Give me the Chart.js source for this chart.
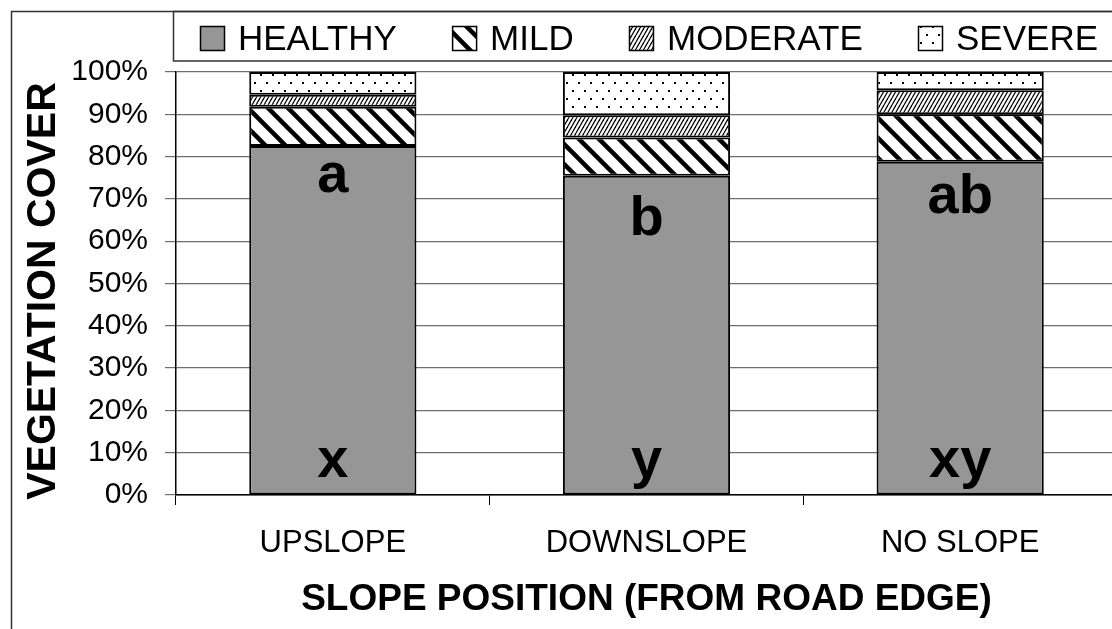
<!DOCTYPE html>
<html>
<head>
<meta charset="utf-8">
<script src="https://cdn.jsdelivr.net/npm/chart.js@4.4.0/dist/chart.umd.min.js"></script>
<style>
    html, body { margin: 0; padding: 0; background: #fff; overflow: hidden; }
    #wrap { width: 1125px; height: 629px; }
</style>
</head>
<body>
<div id="wrap"><canvas id="coverChart" width="1125" height="629"></canvas></div>
<script>
// Data
const categories = ['UPSLOPE', 'DOWNSLOPE', 'NO SLOPE'];
const healthy = [82.5, 75.5, 78.8];
const mild = [9.3, 9.0, 11.2];
const moderate = [2.8, 5.3, 5.7];
const severe = [5.4, 10.2, 4.3];
const yTicks = [0, 10, 20, 30, 40, 50, 60, 70, 80, 90, 100];

// Significance letters and the y value of their baselines
const topLetters = ['a', 'b', 'ab'];
const topLetterY = [71.6, 61.5, 66.7];
const bottomLetters = ['x', 'y', 'xy'];
const bottomLetterY = [4.3, 4.3, 4.3];

const FONT = "'Liberation Sans', Arial, sans-serif";

// Pattern helpers
function makeTile(w, h, draw) {
    const c = document.createElement('canvas');
    c.width = w;
    c.height = h;
    const g = c.getContext('2d');
    g.fillStyle = '#fff';
    g.fillRect(0, 0, w, h);
    draw(g, w, h);
    return document.createElement('canvas').getContext('2d').createPattern(c, 'repeat');
}

const mildPattern = makeTile(20, 20, (g, w, h) => {
    g.strokeStyle = '#000';
    g.lineWidth = 4.5;
    for (let k = -1; k <= 1; k++) {
        g.beginPath();
        g.moveTo(k * w - 2, -2);
        g.lineTo(k * w + w + 2, h + 2);
        g.stroke();
    }
});

const moderatePattern = makeTile(4, 7, (g, w, h) => {
    g.strokeStyle = '#000';
    g.lineWidth = 1.3;
    for (let k = -1; k <= 1; k++) {
        g.beginPath();
        g.moveTo(k * w, h);
        g.lineTo(k * w + w, 0);
        g.stroke();
    }
});

const severePattern = makeTile(12, 16, (g) => {
    g.fillStyle = '#000';
    g.fillRect(2, 2, 2, 2);
    g.fillRect(8, 10, 2, 2);
});

const series = [
    { label: 'HEALTHY', data: healthy, fill: '#969696' },
    { label: 'MILD', data: mild, fill: mildPattern },
    { label: 'MODERATE', data: moderate, fill: moderatePattern },
    { label: 'SEVERE', data: severe, fill: severePattern },
];

// Frame, legend box, axis title and letters
const decorPlugin = {
    id: 'decor',
    afterDatasetsDraw(chart) {
        const { ctx, scales: { x, y } } = chart;
        ctx.save();
        ctx.fillStyle = '#000';
        ctx.textAlign = 'center';
        ctx.textBaseline = 'alphabetic';
        ctx.font = `bold 56px ${FONT}`;
        categories.forEach((cat, i) => {
            const px = x.getPixelForValue(i);
            ctx.fillText(topLetters[i], px, y.getPixelForValue(topLetterY[i]));
            ctx.fillText(bottomLetters[i], px, y.getPixelForValue(bottomLetterY[i]));
        });
        ctx.restore();
    },
    afterDraw(chart) {
        const { ctx } = chart;
        ctx.save();
        // y axis title, a little below the axis centre like the original
        ctx.translate(44, 291);
        ctx.rotate(-Math.PI / 2);
        ctx.font = `bold 41px ${FONT}`;
        ctx.textAlign = 'center';
        ctx.textBaseline = 'middle';
        ctx.fillStyle = '#000';
        ctx.fillText('VEGETATION COVER', 0, 0);
        ctx.restore();

        ctx.save();
        // outer frame
        ctx.strokeStyle = '#333';
        ctx.lineWidth = 1.5;
        ctx.strokeRect(11.5, 11.5, 2000, 2000);
        // legend box
        ctx.strokeRect(173.5, 11.5, 2000, 49.5);

        ctx.font = `35px ${FONT}`;
        ctx.textAlign = 'left';
        ctx.textBaseline = 'alphabetic';
        const widths = series.map((s) => ctx.measureText(s.label).width);
        const total = widths.reduce((a, b) => a + b + 38, 0);
        const gap = (1098 - 200 - total) / (series.length - 1);
        let lx = 200;
        series.forEach((s, i) => {
            ctx.fillStyle = s.fill;
            ctx.fillRect(lx, 26, 24, 24);
            ctx.strokeStyle = '#000';
            ctx.lineWidth = 1.5;
            ctx.strokeRect(lx + 0.5, 26.5, 24, 24);
            ctx.fillStyle = '#000';
            ctx.fillText(s.label, lx + 38, 50);
            lx += 38 + widths[i] + gap;
        });
        ctx.restore();
    },
};

new Chart(document.getElementById('coverChart'), {
    type: 'bar',
    data: {
        labels: categories,
        datasets: series.map((s) => ({
            label: s.label,
            data: s.data,
            backgroundColor: s.fill,
            borderColor: '#000',
            borderWidth: 2,
            borderSkipped: false,
            barPercentage: 0.533,
            categoryPercentage: 1,
        })),
    },
    options: {
        responsive: false,
        devicePixelRatio: 1,
        animation: false,
        layout: { padding: { top: 72, right: 8, bottom: 0, left: 0 } },
        plugins: {
            legend: { display: false },
            tooltip: { enabled: false },
        },
        scales: {
            x: {
                stacked: true,
                afterFit: (scale) => { scale.height = 134; },
                grid: {
                    offset: true,
                    drawOnChartArea: false,
                    drawTicks: true,
                    tickLength: 10,
                    color: '#000',
                },
                border: { color: '#000', width: 1.5 },
                ticks: {
                    color: '#000',
                    padding: 20,
                    font: { family: FONT, size: 31 },
                },
                title: {
                    display: true,
                    text: 'SLOPE POSITION (FROM ROAD EDGE)',
                    color: '#000',
                    font: { family: FONT, size: 37, weight: 'bold', lineHeight: 1 },
                    padding: { top: 0, bottom: 10.5 },
                },
            },
            y: {
                stacked: true,
                min: 0,
                max: 100,
                afterFit: (scale) => { scale.width = 176; },
                afterBuildTicks: (scale) => { scale.ticks = yTicks.map((v) => ({ value: v })); },
                grid: {
                    color: '#6e6e6e',
                    lineWidth: 1.2,
                    tickLength: 11,
                },
                border: { color: '#000', width: 1.5 },
                ticks: {
                    color: '#000',
                    padding: 17,
                    font: { family: FONT, size: 30 },
                    callback: (v) => v + '%',
                },
            },
        },
    },
    plugins: [decorPlugin],
});
</script>
</body>
</html>
